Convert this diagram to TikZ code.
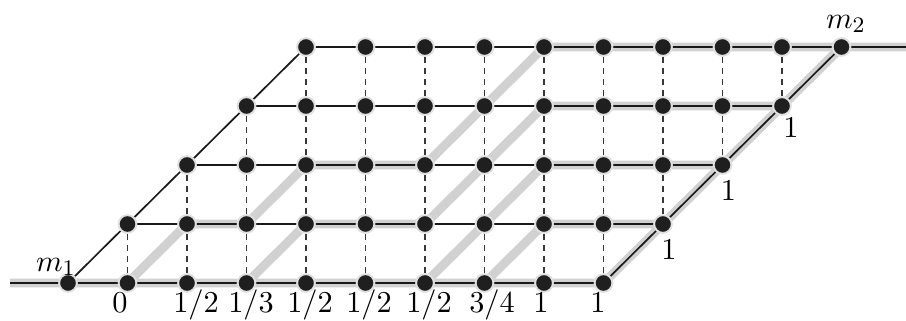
\documentclass[tikz,border=0pt]{standalone}
\pgfdeclarelayer{bandlayer}
\pgfdeclarelayer{linelayer}
\pgfsetlayers{bandlayer,linelayer,main}
\begin{document}
\begin{tikzpicture}[x=0.361pt,y=-0.361pt,
  dot/.style={circle,fill=black!88,draw=black!12,line width=0.7pt,inner sep=0pt,minimum size=6.4pt},
  band/.style={line width=3.2pt,draw=black!18,line join=round},
  edge/.style={line width=0.6pt,draw=black!90},
  vdash/.style={line width=0.7pt,draw=black!78,dash pattern=on 2.2pt off 1.8pt},
  lab/.style={font=\fontsize{11}{13}\selectfont,anchor=base,inner sep=0pt}]
\useasboundingbox (0,0) rectangle (906,320);
% lattice nodes
\foreach \j in {0,...,4}{
  \foreach \i in {0,...,9}{
    \pgfmathtruncatemacro{\k}{\i+\j}
    \node[dot] (n\k-\j) at ({68+59.5*\k},{283-59*\j}) {};
  }
}
\coordinate (L) at (10,283);
\coordinate (R) at (906,47);
% gray highlighted paths
\begin{pgfonlayer}{bandlayer}
\draw[band] (L) -- (n0-0.center) -- (n9-0.center) -- (n13-4.center) -- (R);
\draw[band] (n1-0.center) -- (n2-1.center) -- (n3-1.center) -- (n4-2.center) -- (n6-2.center) -- (n7-3.center) -- (n8-4.center) -- (n13-4.center);
\draw[band] (n3-0.center) -- (n4-1.center) -- (n6-1.center) -- (n7-2.center) -- (n8-3.center) -- (n12-3.center) -- (n13-4.center);
\draw[band] (n6-0.center) -- (n7-1.center) -- (n8-2.center) -- (n11-2.center) -- (n13-4.center);
\draw[band] (n7-0.center) -- (n8-1.center) -- (n10-1.center) -- (n13-4.center);
\end{pgfonlayer}
% black lines and dashed verticals
\begin{pgfonlayer}{linelayer}
\draw[edge] (L) -- (n0-0.center) -- (n9-0.center) -- (n13-4.center) -- (R);
\draw[edge] (n0-0.center) -- (n4-4.center);
\foreach \j in {1,...,4}{
  \pgfmathtruncatemacro{\m}{\j+9}
  \draw[edge] (n\j-\j.center) -- (n\m-\j.center);
}
\foreach \j in {0,...,3}{
  \foreach \i in {1,...,9}{
    \pgfmathtruncatemacro{\k}{\i+\j}
    \pgfmathtruncatemacro{\jj}{\j+1}
    \draw[vdash] (n\k-\j) -- (n\k-\jj);
  }
}
\end{pgfonlayer}
% labels
\node[lab] (m1) at (56,271) {$m_1$};
\node[lab] (m2) at (846,28) {$m_2$};
\foreach \x/\t [count=\c] in {120/{$0$},196/{$1/2$},251/{$1/3$},310/{$1/2$},369/{$1/2$},429/{$1/2$},492/{$3/4$},541/{$1$},598/{$1$}}{
  \node[lab] (b\c) at (\x,312) {\t};
}
\node[lab] (r1) at ([shift={(6,35)}]n10-1) {$1$};
\node[lab] (r2) at ([shift={(6,35)}]n11-2) {$1$};
\node[lab] (r3) at ([shift={(9,31)}]n12-3) {$1$};
\end{tikzpicture}
\end{document}
